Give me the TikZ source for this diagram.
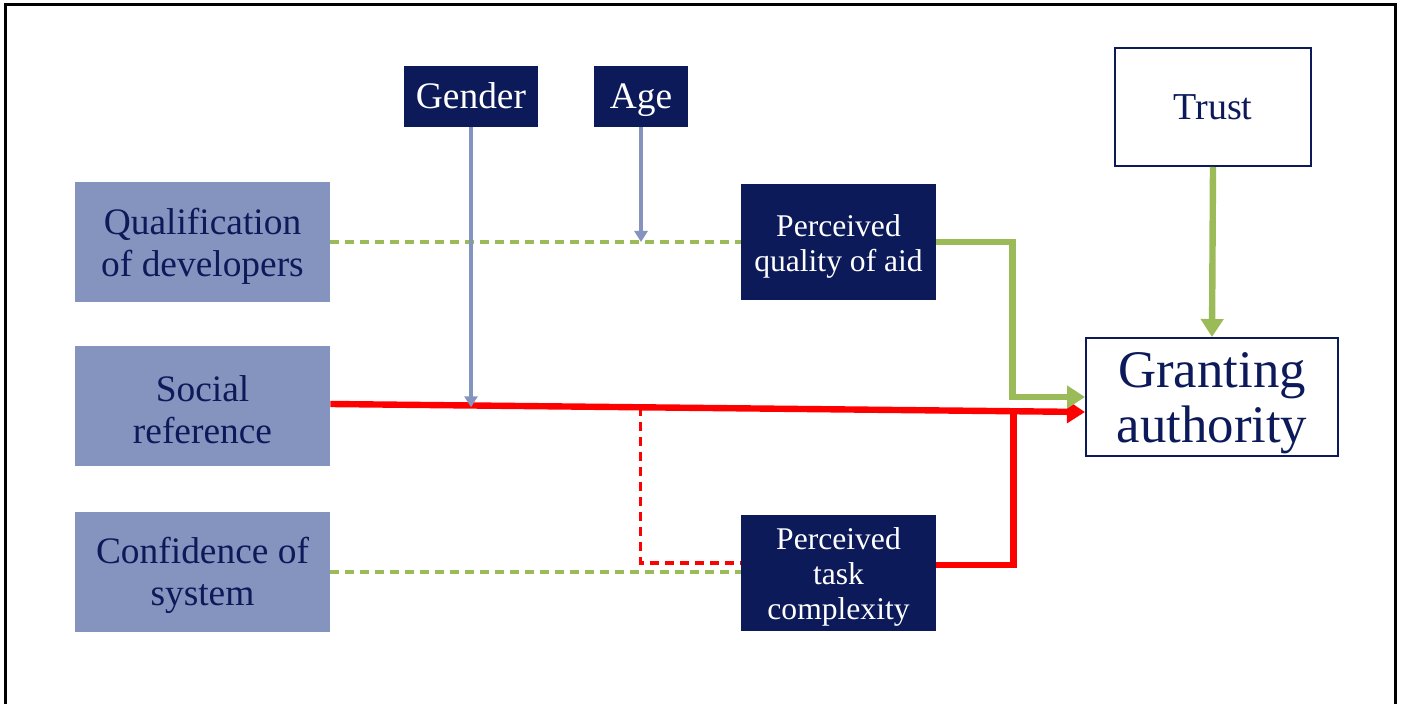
\documentclass[tikz,border=0pt]{standalone}
\usepackage{fontspec}
\setmainfont{Liberation Serif}
\usetikzlibrary{arrows.meta,positioning,calc}
\definecolor{navy}{HTML}{0C1A5A}
\definecolor{slate}{HTML}{8593BF}
\definecolor{olive}{HTML}{9BBB59}
% invisible strut that pushes a first line down a little
\newcommand{\lift}[1]{\rule{0pt}{#1}}
\tikzset{
  factor/.style    = {rectangle, fill=slate, text=navy, align=center,
                      minimum width=127.5pt, minimum height=60pt,
                      font=\fontsize{18.7}{21}\selectfont},
  mediator/.style  = {rectangle, fill=navy, text=white, align=center,
                      minimum width=97.5pt, minimum height=58pt, inner ysep=1pt,
                      font=\fontsize{15.8}{17.5}\selectfont},
  moderator/.style = {rectangle, fill=navy, text=white, align=center,
                      minimum height=30.5pt, text height=15pt, text depth=2.5pt,
                      font=\fontsize{18.7}{21}\selectfont},
  outcome/.style   = {rectangle, draw=navy, line width=1pt, fill=white,
                      text=navy, align=center, minimum height=59pt},
  weak/.style      = {olive, line width=1.8pt, dash pattern=on 4.5pt off 3pt},
  strong/.style    = {olive, line width=3.2pt},
  effect/.style    = {red, line width=3.2pt},
  modline/.style   = {slate, line width=1.6pt, -{Triangle[length=5.5pt,width=6.5pt]}}
}
\begin{document}
\begin{tikzpicture}[x=0.5pt,y=-0.5pt,
  >={Triangle[length=9pt,width=11pt]}]
\useasboundingbox (0,0) rectangle (1402,704);

% frame
\draw[line width=1.5pt] (5,704) -- (5,5) -- (1395,5) -- (1395,704);

% left column of factors
\node[factor] (qual) at (202.5,242) {\lift{17pt}Qualification\\of developers};
\node[factor, below of=qual, node distance=82pt] (social) {\lift{17pt}Social\\reference};
\node[factor, below of=social, node distance=83pt] (conf) {\lift{17pt}Confidence of\\system};

% moderators
\node[moderator, minimum width=67pt] (gender) at (471,96.5) {Gender};
\node[moderator, minimum width=47pt] (age) at (641,96.5) {Age};

% mediators
\node[mediator] (pqa) at (838.5,242) {\lift{15pt}Perceived\\quality of aid};
\node[mediator] (ptc) at (838.5,573) {\lift{15pt}Perceived\\task\\complexity};

% outcome side
\node[outcome, minimum width=98pt, font=\fontsize{19}{21}\selectfont] (trust) at (1213,107) {Trust};
\node[outcome, minimum width=126pt, inner ysep=0pt, font=\fontsize{26.4}{27.5}\selectfont]
  (grant) at (1212,397) {\lift{23.5pt}Granting\\authority};

% main red path and points on it
\draw[effect,->] ([yshift=1pt]social.east) -- ([yshift=-7.5pt]grant.west);
\path ([yshift=1pt]social.east) -- ([yshift=-7.5pt]grant.west)
  coordinate[pos=0.411] (rd) coordinate[pos=0.905] (rj);

% dashed inputs
\draw[weak] (qual.east) -- (pqa.west);
\draw[weak] (conf.east) -- (conf.east -| ptc.west);
\draw[red, line width=1.8pt, dash pattern=on 4.5pt off 3pt]
  (rd) |- ([yshift=5pt]ptc.west);

% moderating arrows
\draw[modline] (gender.south) -- (gender.south |- rd);
\draw[modline] (age.south) -- (age.south |- qual.east);

% mediators into outcome
\draw[strong,->] (pqa.east) -- ++(38pt,0) |- (grant.west);
\draw[effect] ([yshift=4pt]ptc.east) -| (rj);
\draw[strong,->] (trust.south) -- (grant.north);
\end{tikzpicture}
\end{document}
